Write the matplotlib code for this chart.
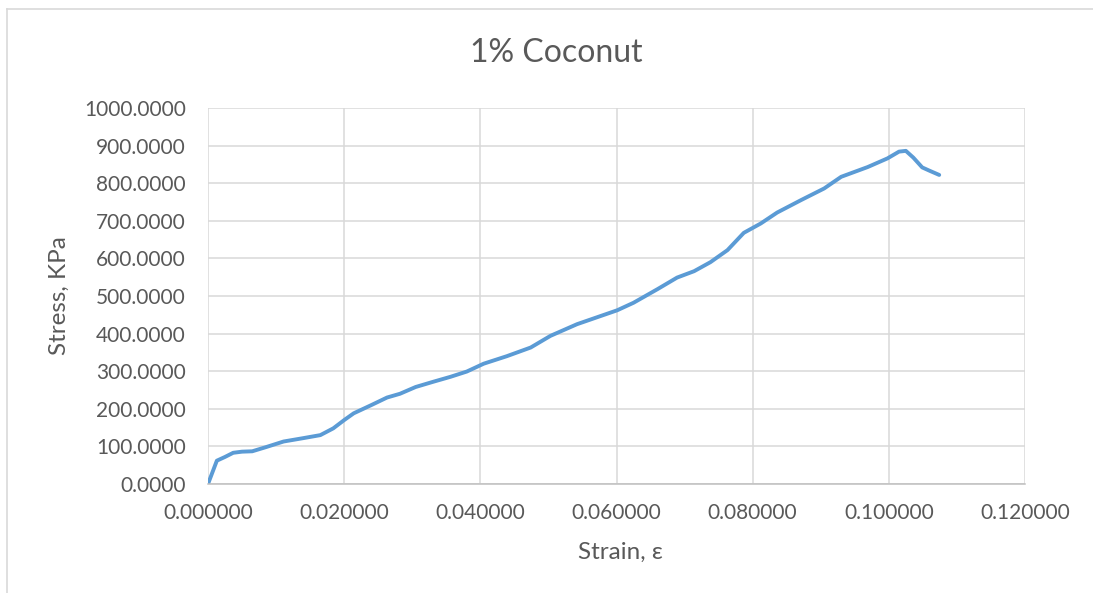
import matplotlib.pyplot as plt
from matplotlib.lines import Line2D
from matplotlib.ticker import FormatStrFormatter

# data
strain = [0.0, 0.0013, 0.0025, 0.0037, 0.0050, 0.0065, 0.0085, 0.0111, 0.0140, 0.0165,
          0.0184, 0.0200, 0.0214, 0.0240, 0.0263, 0.0282, 0.0305, 0.0331, 0.0356, 0.0380,
          0.0405, 0.0439, 0.0474, 0.0503, 0.0542, 0.0601, 0.0625, 0.0660, 0.0689, 0.0714,
          0.0738, 0.0763, 0.0787, 0.0812, 0.0836, 0.0871, 0.0905, 0.0930, 0.0969, 0.0998,
          0.1015, 0.1025, 0.1036, 0.1049, 0.1060, 0.1074]
stress = [0.0, 62.0, 72.0, 83.0, 86.0, 87.0, 98.0, 113.0, 122.0, 130.0,
          148.0, 170.0, 188.0, 210.0, 230.0, 240.0, 258.0, 272.0, 285.0, 299.0,
          320.0, 340.0, 363.0, 394.0, 425.0, 462.0, 482.0, 518.0, 549.0, 566.0,
          590.0, 622.0, 668.0, 693.0, 722.0, 755.0, 786.0, 817.0, 843.0, 866.0,
          884.0, 886.0, 868.0, 842.0, 833.0, 822.0]

plt.rcParams['font.family'] = ['Lato', 'DejaVu Sans']

W, H = 1093, 593
fig = plt.figure(figsize=(W / 100, H / 100), dpi=100, facecolor="white")
ax = fig.add_axes([208 / W, 1 - 484 / H, (1025 - 208) / W, (484 - 108) / H])

ax.plot(strain, stress, color="#5b9bd5", linewidth=2.8, solid_capstyle="round",
        solid_joinstyle="round")

ax.set_xlim(0, 0.12)
ax.set_ylim(0, 1000)
ax.set_xticks([0, 0.02, 0.04, 0.06, 0.08, 0.10, 0.12])
ax.set_yticks(range(0, 1001, 100))
ax.xaxis.set_major_formatter(FormatStrFormatter("%.6f"))
ax.yaxis.set_major_formatter(FormatStrFormatter("%.4f"))

ax.grid(True, color="#d9d9d9", linewidth=1.1)
ax.set_axisbelow(True)
for side in ["top", "right", "left"]:
    ax.spines[side].set_visible(False)
ax.spines["bottom"].set_color("#bfbfbf")
ax.spines["bottom"].set_linewidth(1.1)
ax.tick_params(length=0, labelsize=15, colors="#595959")
ax.tick_params(axis="y", pad=16)
ax.tick_params(axis="x", pad=14)

# title and axis titles placed like the Excel chart
fig.text(556 / W, 1 - 53 / H, "1% Coconut", fontsize=23, color="#595959",
         ha="center", va="center")
fig.text(620 / W, 1 - 552 / H, "Strain, ε", fontsize=17.5, color="#595959",
         ha="center", va="center")
fig.text(59 / W, 1 - 296 / H, "Stress, KPa", fontsize=17.5, color="#595959",
         ha="center", va="center", rotation=90)

# outer chart border
fig.add_artist(Line2D([7 / W, 1], [1 - 9 / H, 1 - 9 / H], color="#d9d9d9", linewidth=1.2))
fig.add_artist(Line2D([7 / W, 7 / W], [0, 1 - 9 / H], color="#d9d9d9", linewidth=1.2))

fig.savefig("out.png", dpi=100)
